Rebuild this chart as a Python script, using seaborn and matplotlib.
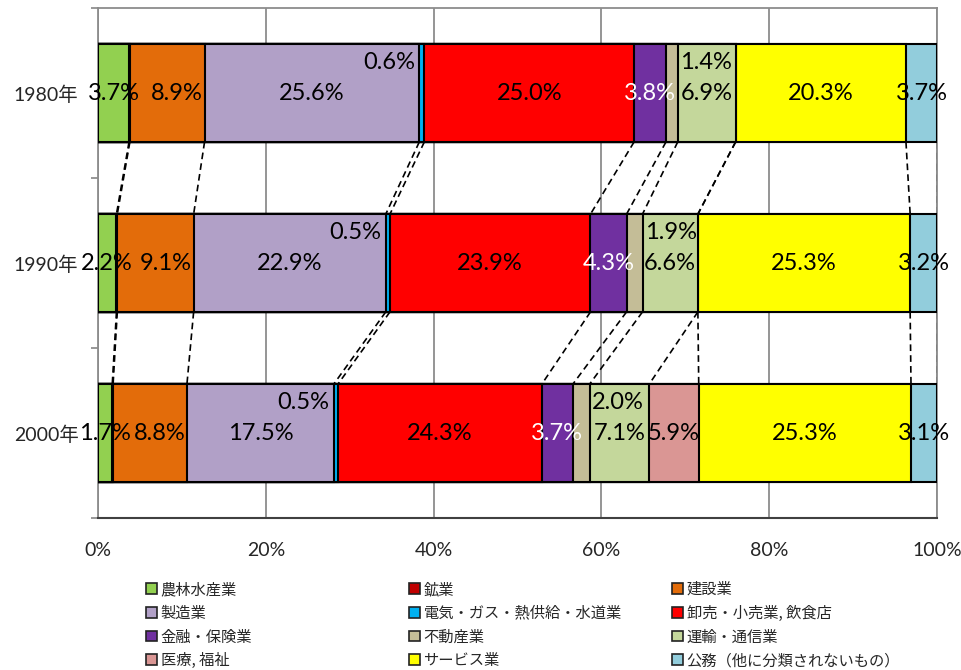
import numpy as np
import pandas as pd
import seaborn as sns
import matplotlib
matplotlib.use("Agg")
import matplotlib.pyplot as plt
from matplotlib.patches import Patch

sns.set_theme(style="white")
plt.rcParams['font.family'] = ['Lato', 'Noto Sans CJK JP', 'DejaVu Sans']

years = ['1980年', '1990年', '2000年']
series_names = ['農林水産業', '鉱業', '建設業', '製造業', '電気・ガス・熱供給・水道業',
                '卸売・小売業, 飲食店', '金融・保険業', '不動産業', '運輸・通信業',
                '医療, 福祉', 'サービス業', '公務（他に分類されないもの）']
agri = [3.7, 2.2, 1.7]
mining = [0.1, 0.1, 0.1]
construction = [8.9, 9.1, 8.8]
manufacturing = [25.6, 22.9, 17.5]
utilities = [0.6, 0.5, 0.5]
trade = [25.0, 23.9, 24.3]
finance = [3.8, 4.3, 3.7]
realestate = [1.4, 1.9, 2.0]
transport = [6.9, 6.6, 7.1]
medical = [0.0, 0.0, 5.9]
services = [20.3, 25.3, 25.3]
public = [3.7, 3.2, 3.1]
colors = ['#92D050', '#C00000', '#E36C0A', '#B1A0C7', '#00B0F0', '#FF0000',
          '#7030A0', '#C4BD97', '#C4D79B', '#DA9694', '#FFFF00', '#92CDDC']

values = np.array([agri, mining, construction, manufacturing, utilities, trade,
                   finance, realestate, transport, medical, services, public])
totals = values.sum(axis=0)
pct = values / totals * 100
cum = np.cumsum(pct, axis=0)
starts = cum - pct

fig = plt.figure(figsize=(9.62, 6.70), dpi=100)
ax = fig.add_axes([98/962, 1-518/670, (937-98)/962, (518-8)/670])

bar_h = 0.575
for k in range(len(series_names) - 1, -1, -1):
    df = pd.DataFrame({'year': years, 'cum': cum[k]})
    sns.barplot(data=df, x='cum', y='year', orient='h', color=colors[k],
                saturation=1, width=bar_h, edgecolor='black', linewidth=1.5,
                errorbar=None, ax=ax, zorder=3)

# series lines
for i in range(len(years) - 1):
    for k in range(len(series_names)):
        ax.plot([cum[k][i], cum[k][i + 1]], [i + bar_h/2, i + 1 - bar_h/2],
                color='black', lw=1.2, ls=(0, (4, 2.5)), zorder=2)

# labels
label_kw = dict(fontsize=17, va='center', zorder=5)
for k, name in enumerate(series_names):
    for i in range(len(years)):
        v = values[k][i]
        if v == 0 or name == '鉱業':
            continue
        txt = f'{v:.1f}%'
        if name.startswith('電気'):
            ax.text(starts[k][i] - 0.5, i - 0.18, txt, ha='right', color='black', **label_kw)
        elif name == '不動産業':
            ax.text(cum[k][i] + 0.3, i - 0.18, txt, ha='left', color='black', **label_kw)
        else:
            col = 'white' if name == '金融・保険業' else 'black'
            shift = 1.2 if name == '建設業' else 0.0
            ax.text(starts[k][i] + pct[k][i]/2 + shift, i, txt, ha='center', color=col, **label_kw)

ax.set_xlim(0, 100)
ax.set_ylim(2.5, -0.5)
ax.set_xticks([0, 20, 40, 60, 80, 100])
ax.set_xticklabels([f'{t}%' for t in [0, 20, 40, 60, 80, 100]], fontsize=14)
ax.set_yticks([0, 1, 2])
ax.set_yticklabels(years, fontsize=14)
ax.set_yticks([-0.5, 0.5, 1.5, 2.5], minor=True)
ax.tick_params(axis='y', which='major', length=0, pad=14)
ax.tick_params(axis='y', which='minor', length=5, color='#868686', width=1.2, left=True)
ax.tick_params(axis='x', length=0, pad=17)
ax.set_xlabel('')
ax.set_ylabel('')
ax.set_axisbelow(True)
ax.xaxis.grid(True, color='#8c8c8c', lw=1.3)
ax.yaxis.grid(False)
for s in ['top', 'right', 'left']:
    ax.spines[s].set_color('#8c8c8c')
    ax.spines[s].set_linewidth(1.3)
ax.spines['bottom'].set_color('#404040')
ax.spines['bottom'].set_linewidth(1.5)

# legend: three columns, row-major order
col_x = [146/962, 409/962, 672/962]
for c in range(3):
    idx = [r*3 + c for r in range(4)]
    handles = [Patch(facecolor=colors[j], edgecolor='#222222', linewidth=1.2) for j in idx]
    labels = [series_names[j] for j in idx]
    fig.legend(handles, labels, loc='upper left', bbox_to_anchor=(col_x[c], 1 - 581/670),
               frameon=False, borderpad=0, borderaxespad=0, handlelength=0.7,
               handleheight=0.7, handletextpad=0.25, labelspacing=0.44,
               prop={'family': ['Noto Sans CJK JP', 'DejaVu Sans'], 'size': 11})

fig.savefig('out.png', dpi=100)
